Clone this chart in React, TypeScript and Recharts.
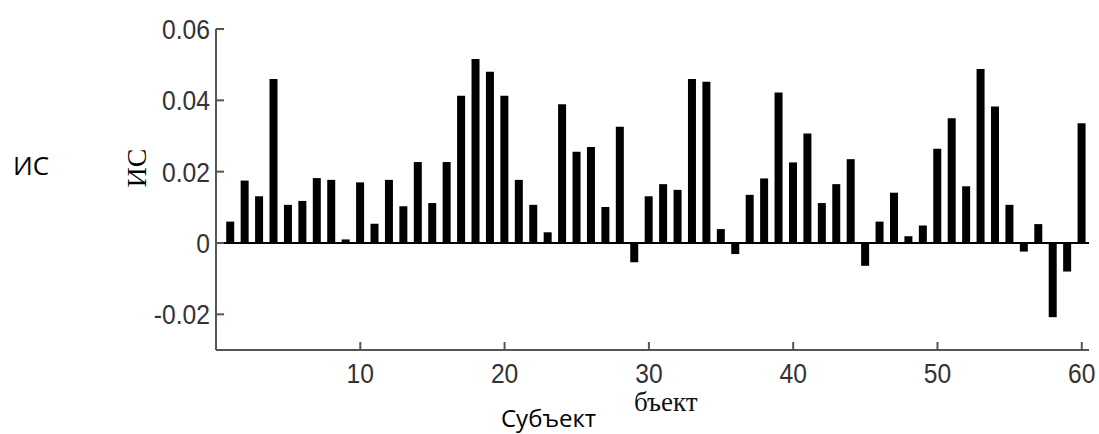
import { BarChart, Bar, XAxis, YAxis, ReferenceLine } from "recharts";

const values = [
  0.006, 0.0175, 0.0131, 0.046, 0.0107, 0.0118, 0.0182, 0.0177, 0.001, 0.017,
  0.0054, 0.0177, 0.0103, 0.0227, 0.0112, 0.0227, 0.0413, 0.0516, 0.048, 0.0413,
  0.0177, 0.0107, 0.003, 0.0389, 0.0256, 0.0269, 0.0101, 0.0326, -0.0054, 0.0131,
  0.0165, 0.0149, 0.046, 0.0452, 0.0039, -0.0031, 0.0135, 0.0181, 0.0422, 0.0226,
  0.0307, 0.0112, 0.0165, 0.0235, -0.0064, 0.006, 0.0141, 0.0019, 0.0049, 0.0264,
  0.035, 0.0159, 0.0488, 0.0383, 0.0107, -0.0024, 0.0053, -0.0208, -0.008, 0.0336,
];

const xTicks = [10, 20, 30, 40, 50, 60];
const yTicks = [-0.02, 0, 0.02, 0.04, 0.06];

const data = values.map((v, i) => ({ subject: i + 1, value: v }));

const tickFont = "Liberation Sans, Arial, sans-serif";

// matlab-ish tall narrow tick text
function XTick({ x, y, payload }: any) {
  return (
    <g transform={`translate(${x},${y})`}>
      <text
        transform="scale(0.88,1)"
        textAnchor="middle"
        dy="0.71em"
        fontSize={28}
        fill="#333"
        fontFamily={tickFont}
      >
        {payload.value}
      </text>
    </g>
  );
}

function YTick({ x, y, payload }: any) {
  return (
    <g transform={`translate(${x},${y})`}>
      <text
        transform="scale(0.88,1)"
        textAnchor="end"
        dy="0.355em"
        fontSize={28}
        fill="#333"
        fontFamily={tickFont}
      >
        {String(payload.value)}
      </text>
    </g>
  );
}

export default function App() {
  return (
    <div style={{ position: "absolute", left: 0, top: 0, width: 1099, height: 434, background: "#fff" }}>
      <BarChart
        width={1099}
        height={434}
        data={data}
        margin={{ top: 29, right: 10, bottom: 0, left: 0 }}
      >
        <XAxis
          dataKey="subject"
          type="number"
          domain={[0, 60.5]}
          ticks={xTicks}
          height={84}
          axisLine={{ stroke: "#555", strokeWidth: 2 }}
          tickLine={{ stroke: "#555", strokeWidth: 2 }}
          tickSize={-8}
          tickMargin={21}
          tick={<XTick />}
        />
        <YAxis
          type="number"
          domain={[-0.03, 0.06]}
          ticks={yTicks}
          width={216}
          allowDataOverflow
          axisLine={{ stroke: "#555", strokeWidth: 2 }}
          tickLine={{ stroke: "#555", strokeWidth: 2 }}
          tickSize={-8}
          tickMargin={14}
          tick={<YTick />}
        />
        <Bar dataKey="value" fill="#000" barSize={8} isAnimationActive={false} />
        <ReferenceLine y={0} stroke="#000" strokeWidth={2} />
      </BarChart>
      <div
        style={{
          position: "absolute",
          left: 13,
          top: 150,
          fontFamily: "Open Sans, sans-serif",
          fontSize: 26,
          lineHeight: "30px",
          color: "#000",
        }}
      >
        ИС
      </div>
      <div
        style={{
          position: "absolute",
          left: 137,
          top: 168,
          transform: "translate(-50%, -50%) rotate(-90deg)",
          fontFamily: "Liberation Serif, serif",
          fontSize: 28,
          lineHeight: "30px",
          color: "#000",
          whiteSpace: "nowrap",
        }}
      >
        ИС
      </div>
      <div
        style={{
          position: "absolute",
          left: 634,
          top: 389,
          fontFamily: "Liberation Serif, serif",
          fontSize: 27,
          lineHeight: "26px",
          color: "#111",
          whiteSpace: "nowrap",
        }}
      >
        бъект
      </div>
      <div
        style={{
          position: "absolute",
          left: 501,
          top: 403,
          fontFamily: "Open Sans, sans-serif",
          fontSize: 24,
          lineHeight: "30px",
          color: "#000",
          whiteSpace: "nowrap",
        }}
      >
        Субъект
      </div>
    </div>
  );
}
